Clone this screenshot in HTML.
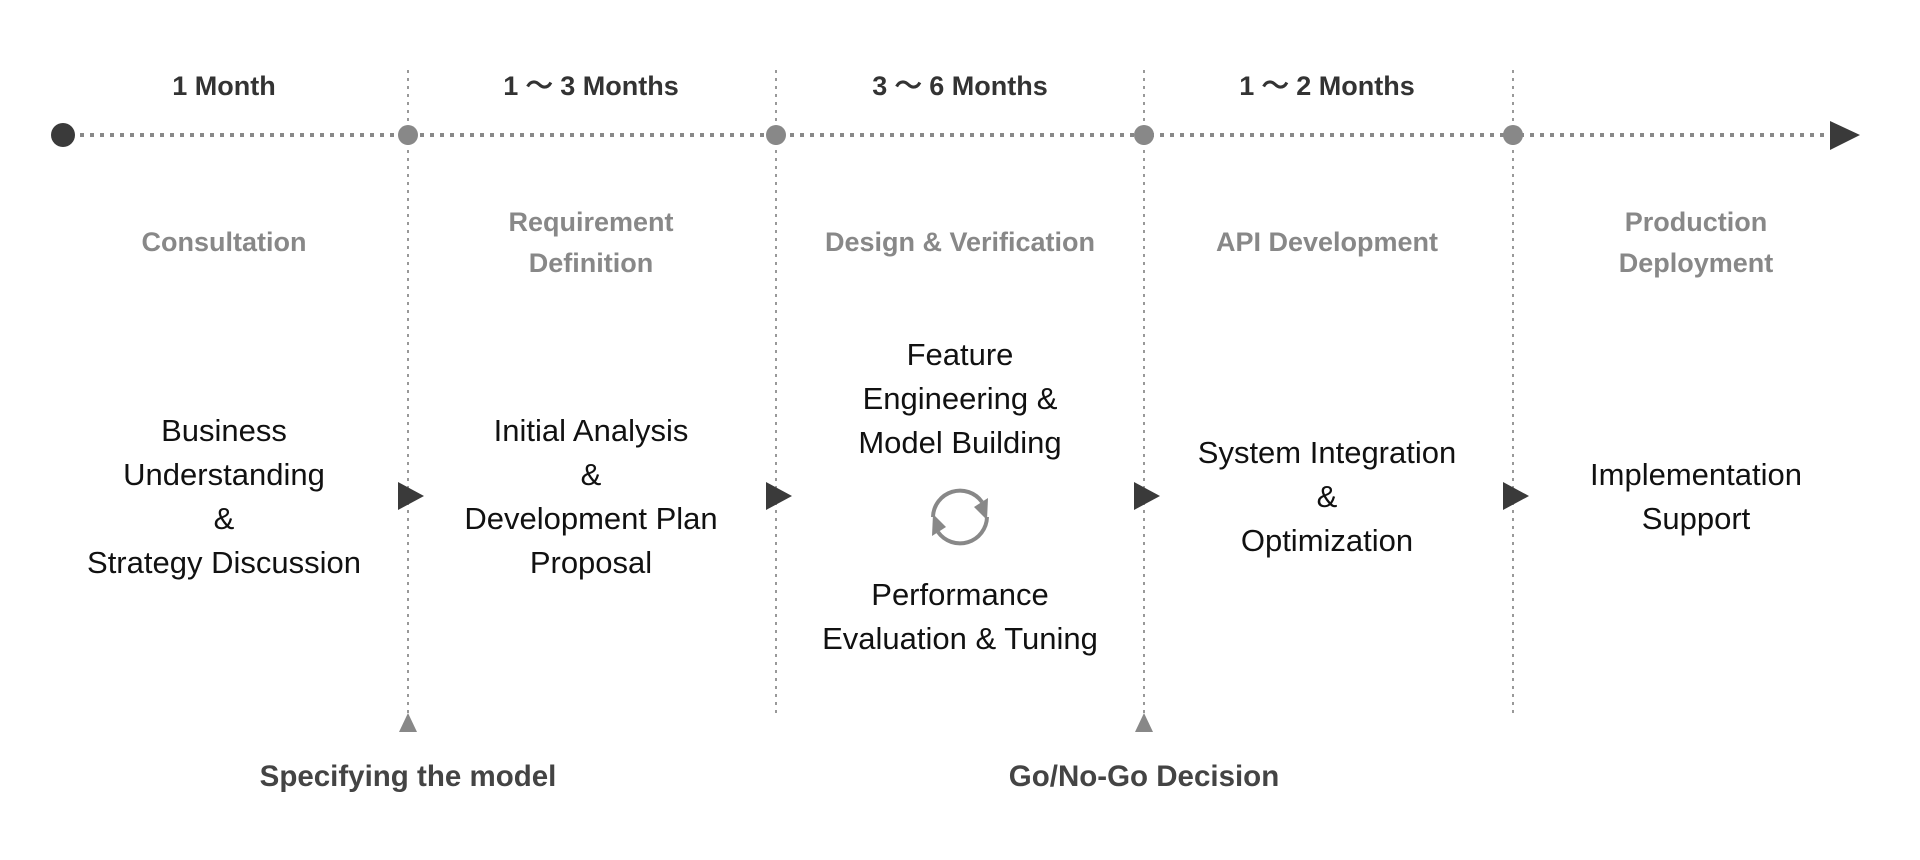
<!DOCTYPE html>
<html><head><meta charset="utf-8"><style>
html,body{margin:0;padding:0;background:#fff;width:1920px;height:860px;overflow:hidden}
svg{display:block}
.m{font:600 27px "Liberation Sans",sans-serif;fill:#333;text-anchor:middle}
.t{font:bold 27px "Liberation Sans",sans-serif;fill:#888;text-anchor:middle}
.b{font:31px "Liberation Sans",sans-serif;fill:#111;text-anchor:middle}
.d{font:bold 29.5px "Liberation Sans",sans-serif;fill:#444;text-anchor:middle}
</style></head><body>
<svg width="1920" height="860" viewBox="0 0 1920 860">
<g stroke="#999" stroke-width="2" stroke-dasharray="3,5">
<line x1="408" y1="70" x2="408" y2="714"/>
<line x1="776" y1="70" x2="776" y2="714"/>
<line x1="1144" y1="70" x2="1144" y2="714"/>
<line x1="1513" y1="70" x2="1513" y2="714"/>
</g>
<line x1="80" y1="135" x2="1832" y2="135" stroke="#888" stroke-width="4" stroke-dasharray="4,6"/>
<circle cx="63" cy="135" r="12" fill="#3a3a3a"/>
<g fill="#888"><circle cx="408" cy="135" r="10"/><circle cx="776" cy="135" r="10"/><circle cx="1144" cy="135" r="10"/><circle cx="1513" cy="135" r="10"/></g>
<polygon points="1830,121 1860,135 1830,150" fill="#3a3a3a"/>
<text class="m" x="224" y="95">1 Month</text>
<text class="m" x="591" y="95">1 ～ 3 Months</text>
<text class="m" x="960" y="95">3 ～ 6 Months</text>
<text class="m" x="1327" y="95">1 ～ 2 Months</text>
<text class="t" x="224" y="251">Consultation</text>
<text class="t" x="591" y="231">Requirement</text><text class="t" x="591" y="272">Definition</text>
<text class="t" x="960" y="251">Design &amp; Verification</text>
<text class="t" x="1327" y="251">API Development</text>
<text class="t" x="1696" y="231">Production</text><text class="t" x="1696" y="272">Deployment</text>
<text class="b" x="224" y="441">Business</text><text class="b" x="224" y="485">Understanding</text><text class="b" x="224" y="529">&amp;</text><text class="b" x="224" y="573">Strategy Discussion</text>
<text class="b" x="591" y="441">Initial Analysis</text><text class="b" x="591" y="485">&amp;</text><text class="b" x="591" y="529">Development Plan</text><text class="b" x="591" y="573">Proposal</text>
<text class="b" x="960" y="365">Feature</text><text class="b" x="960" y="409">Engineering &amp;</text><text class="b" x="960" y="453">Model Building</text>
<text class="b" x="960" y="605">Performance</text><text class="b" x="960" y="649">Evaluation &amp; Tuning</text>
<text class="b" x="1327" y="463">System Integration</text><text class="b" x="1327" y="507">&amp;</text><text class="b" x="1327" y="551">Optimization</text>
<text class="b" x="1696" y="485">Implementation</text><text class="b" x="1696" y="529">Support</text>
<g fill="#3a3a3a">
<polygon points="398,482 424,496 398,510"/>
<polygon points="766,482 792,496 766,510"/>
<polygon points="1134,482 1160,496 1134,510"/>
<polygon points="1503,482 1529,496 1503,510"/>
</g>
<g fill="none" stroke="#888" stroke-width="4">
<path d="M933,517 A27,27 0 0 1 982,502"/>
<path d="M987,517 A27,27 0 0 1 938,532"/>
</g>
<polygon points="988,498 987,520 974,507" fill="#888"/>
<polygon points="932,536 933,514 946,527" fill="#888"/>
<g fill="#888"><polygon points="408,713 399,732 417,732"/><polygon points="1144,713 1135,732 1153,732"/></g>
<text class="d" x="408" y="786">Specifying the model</text>
<text class="d" x="1144" y="786">Go/No-Go Decision</text>
</svg>
</body></html>
